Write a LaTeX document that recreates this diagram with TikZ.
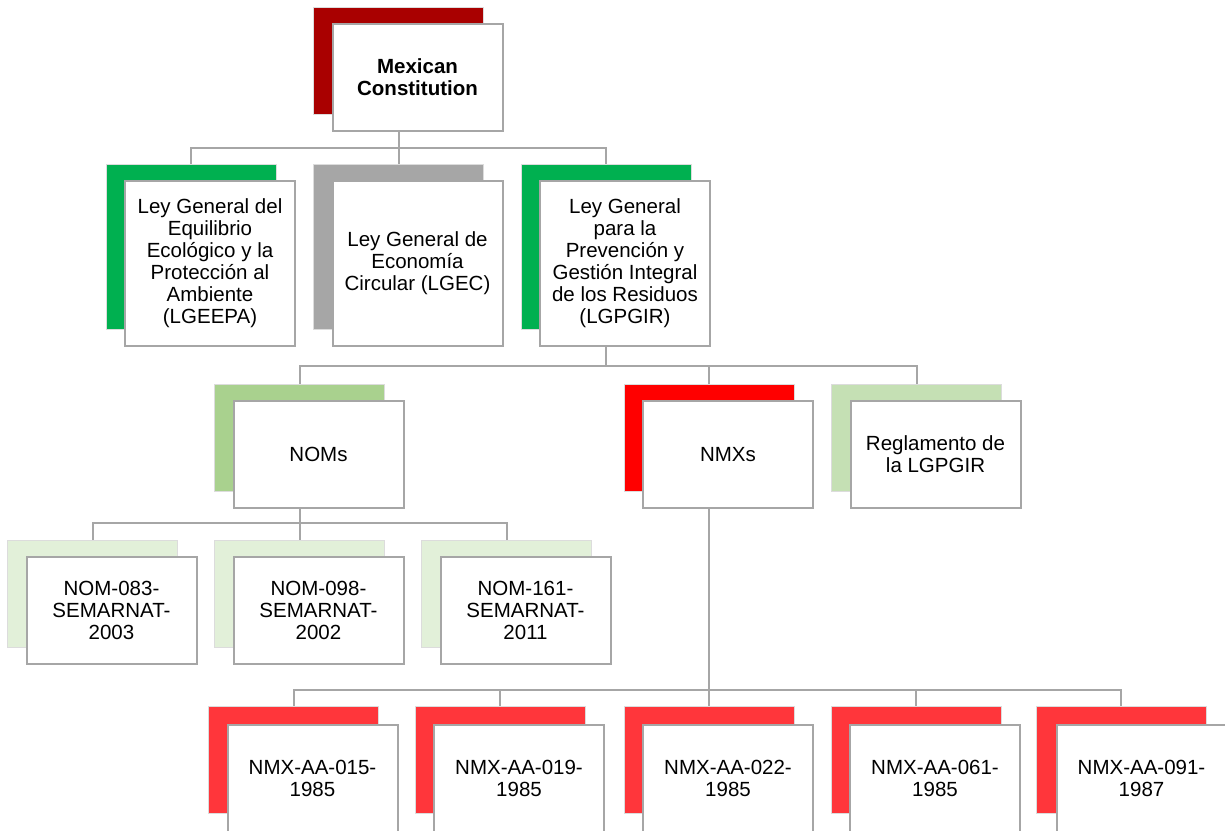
\documentclass[tikz,border=0pt]{standalone}
\usepackage{fontspec}
\setmainfont{Liberation Sans}
\definecolor{frameGray}{HTML}{A6A6A6}
\definecolor{backEdge}{HTML}{DCDCDC}
\definecolor{darkRed}{HTML}{A90000}
\definecolor{lawGreen}{HTML}{00B050}
\definecolor{lawGray}{HTML}{A6A6A6}
\definecolor{nomGreen}{HTML}{A9D18E}
\definecolor{regGreen}{HTML}{C5E0B4}
\definecolor{leafGreen}{HTML}{E2F0D9}
\definecolor{nmxRed}{HTML}{FF0000}
\definecolor{leafRed}{HTML}{FF363B}
\begin{document}
\begin{tikzpicture}[x=1pt,y=-1pt,
  front/.style={draw=frameGray, line width=2pt, fill=white,
    minimum width=170pt, minimum height=107pt, inner sep=0pt,
    align=center, font=\fontsize{20.5}{22}\selectfont},
  tall/.style={minimum height=165pt},
  back/.style={draw=backEdge, line width=1pt, fill=#1,
    minimum width=170pt, minimum height=107pt, inner sep=0pt},
  conn/.style={draw=frameGray, line width=2pt}]
\useasboundingbox (0,0) rectangle (1225,830);
\clip (0,0) rectangle (1225,830);

% bar heights of the connector levels
\coordinate (barA) at (0,148);
\coordinate (barB) at (0,366);
\coordinate (barC) at (0,523);
\coordinate (barD) at (0,690);

% level 1
\node[back=darkRed] (consB) at (398.5,60.5) {};
\node[front] (consF) at (417.5,77.5) {\bfseries Mexican\\\bfseries Constitution};

% level 2
\node[back=lawGreen, minimum height=165pt] (lgeB) at (191,246.5) {};
\node[front,tall] (lgeF) at (210,263.5) {Ley General del\\Equilibrio\\Ecológico y la\\Protección al\\Ambiente\\(LGEEPA)};
\node[back=lawGray, minimum height=165pt] (lgcB) at (398.5,246.5) {};
\node[front,tall] (lgcF) at (417.5,263.5) {Ley General de\\Economía\\Circular (LGEC)};
\node[back=lawGreen, minimum height=165pt] (lgpB) at (606,246.5) {};
\node[front,tall] (lgpF) at (625,263.5) {Ley General\\para la\\Prevención y\\Gestión Integral\\de los Residuos\\(LGPGIR)};

% level 3
\node[back=nomGreen] (nomsB) at (299.5,437.5) {};
\node[front] (nomsF) at (318.5,454.5) {NOMs};
\node[back=nmxRed] (nmxsB) at (709,437.5) {};
\node[front] (nmxsF) at (728,454.5) {NMXs};
\node[back=regGreen] (regB) at (916.5,437.5) {};
\node[front] (regF) at (935.5,454.5) {Reglamento de\\la LGPGIR};

% level 4: NOMs
\node[back=leafGreen] (nomaB) at (92.5,593.5) {};
\node[front] (nomaF) at (111.5,610.5) {NOM-083-\\SEMARNAT-\\2003};
\node[back=leafGreen] (nombB) at (299.5,593.5) {};
\node[front] (nombF) at (318.5,610.5) {NOM-098-\\SEMARNAT-\\2002};
\node[back=leafGreen] (nomcB) at (506.5,593.5) {};
\node[front] (nomcF) at (525.5,610.5) {NOM-161-\\SEMARNAT-\\2011};

% level 4: NMXs (the row runs off the lower edge)
\node[back=leafRed] (nmxaB) at (293.5,759.5) {};
\node[front] (nmxaF) at (312.5,778) {NMX-AA-015-\\1985};
\node[back=leafRed] (nmxbB) at (500,759.5) {};
\node[front] (nmxbF) at (519,778) {NMX-AA-019-\\1985};
\node[back=leafRed] (nmxcB) at (709,759.5) {};
\node[front] (nmxcF) at (728,778) {NMX-AA-022-\\1985};
\node[back=leafRed] (nmxdB) at (916,759.5) {};
\node[front] (nmxdF) at (935,778) {NMX-AA-061-\\1985};
\node[back=leafRed] (nmxeB) at (1121,759.5) {};
\node[front] (nmxeF) at (1141.5,778) {NMX-AA-091-\\1987};

% connectors
\foreach \c in {lgeB,lgcB,lgpB}
  \draw[conn] (consF.south -| consB) |- (barA -| \c) -- (\c.north);
\foreach \c in {nomsB,nmxsB,regB}
  \draw[conn] (lgpF.south -| lgpB) |- (barB -| \c) -- (\c.north);
\foreach \c in {nomaB,nombB,nomcB}
  \draw[conn] (nomsF.south -| nomsB) |- (barC -| \c) -- (\c.north);
\foreach \c in {nmxaB,nmxbB,nmxcB,nmxdB,nmxeB}
  \draw[conn] (nmxsF.south -| nmxsB) |- (barD -| \c) -- (\c.north);
\end{tikzpicture}
\end{document}
